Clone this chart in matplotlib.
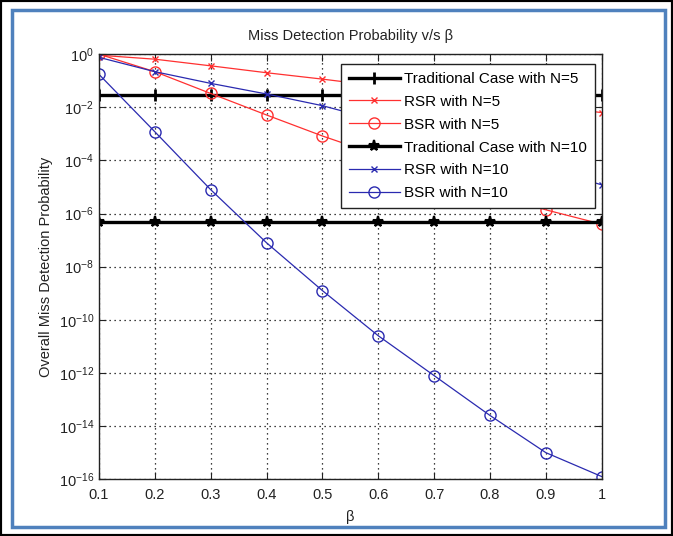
import matplotlib
matplotlib.use("Agg")
import matplotlib.pyplot as plt
import numpy as np
from matplotlib.patches import Rectangle

plt.rcParams['font.family'] = ['Liberation Sans', 'DejaVu Sans']
plt.rcParams['mathtext.default'] = 'regular'

beta = [0.1, 0.2, 0.3, 0.4, 0.5, 0.6, 0.7, 0.8, 0.9, 1.0]
trad_n5 = [0.03] * 10
rsr_n5_log = [-0.04, -0.19, -0.44, -0.70, -0.94, -1.20, -1.45, -1.70, -1.95, -2.20]
bsr_n5_log = [0.0, -0.66, -1.48, -2.29, -3.08, -3.80, -4.50, -5.20, -5.86, -6.40]
trad_n10 = [4.9e-7] * 10
rsr_n10_log = [-0.12, -0.66, -1.10, -1.50, -1.94, -2.50, -3.10, -3.70, -4.30, -4.92]
bsr_n10_log = [-0.76, -2.92, -5.10, -7.10, -8.90, -10.60, -12.10, -13.60, -15.00, -15.90]
labels = ["Traditional Case with N=5", "RSR with N=5", "BSR with N=5",
          "Traditional Case with N=10", "RSR with N=10", "BSR with N=10"]
xtick_labels = ["0.1", "0.2", "0.3", "0.4", "0.5", "0.6", "0.7", "0.8", "0.9", "1"]

fig = plt.figure(figsize=(6.73, 5.36), dpi=100)
ax = fig.add_axes([0.147, 0.106, 0.747, 0.793])

red = '#ff3030'
blue = '#2a2ab0'
ax.plot(beta, trad_n5, color='black', lw=2.4, marker='+', ms=9, mew=2, label=labels[0])
ax.plot(beta, 10.0 ** np.array(rsr_n5_log), color=red, lw=0.9, marker='x', ms=5, mew=1, label=labels[1])
ax.plot(beta, 10.0 ** np.array(bsr_n5_log), color=red, lw=0.9, marker='o', ms=8, mfc='none', mew=1, label=labels[2])
ax.plot(beta, trad_n10, color='black', lw=2.4, marker='*', ms=8, mew=1.5, label=labels[3])
ax.plot(beta, 10.0 ** np.array(rsr_n10_log), color=blue, lw=0.9, marker='x', ms=5, mew=1, label=labels[4])
ax.plot(beta, 10.0 ** np.array(bsr_n10_log), color=blue, lw=0.9, marker='o', ms=8, mfc='none', mew=1, label=labels[5])

ax.set_yscale('log')
ax.set_xlim(0.1, 1.0)
ax.set_ylim(1e-16, 1)
ax.set_xticks(beta)
ax.set_xticklabels(xtick_labels)
yt = [10.0 ** k for k in range(-16, 1, 2)]
ax.set_yticks(yt)
ax.set_yticklabels([r'$10^{%d}$' % k for k in range(-16, 1, 2)])
ax.minorticks_off()
ax.tick_params(axis='both', which='both', direction='in', top=True, right=True,
               labelsize=10.5, length=5, width=0.8, colors='#222222')
ax.tick_params(axis='x', pad=6)
ax.grid(True, which='major', linestyle=(0, (1, 3)), color='black', lw=0.9)
for s in ax.spines.values():
    s.set_linewidth(1.0)
    s.set_color('#222222')

ax.set_title("Miss Detection Probability v/s β", fontsize=10.5, pad=10, color='#222222')
ax.set_xlabel("β", fontsize=10.5, labelpad=6, color='#222222')
ax.set_ylabel("Overall Miss Detection Probability", fontsize=10.5, labelpad=4, color='#222222')

leg = ax.legend(loc='upper right', bbox_to_anchor=(0.986, 0.976), borderaxespad=0,
                fancybox=False, edgecolor='#222222', framealpha=1, fontsize=11,
                handlelength=3.3, labelspacing=0.58, handletextpad=0.3, borderpad=0.5)
leg.get_frame().set_linewidth(1.0)

# frame borders
fig.patches.append(Rectangle((0.0, 0.0), 1.0, 1.0, transform=fig.transFigure,
                             fill=False, edgecolor='black', lw=3, zorder=10))
fig.patches.append(Rectangle((12 / 673, 1 - 527 / 536), (665 - 12) / 673, (527 - 10) / 536,
                             transform=fig.transFigure, fill=False, edgecolor='#4f81bd', lw=2.5, zorder=10))

fig.savefig("out.png", dpi=100)
